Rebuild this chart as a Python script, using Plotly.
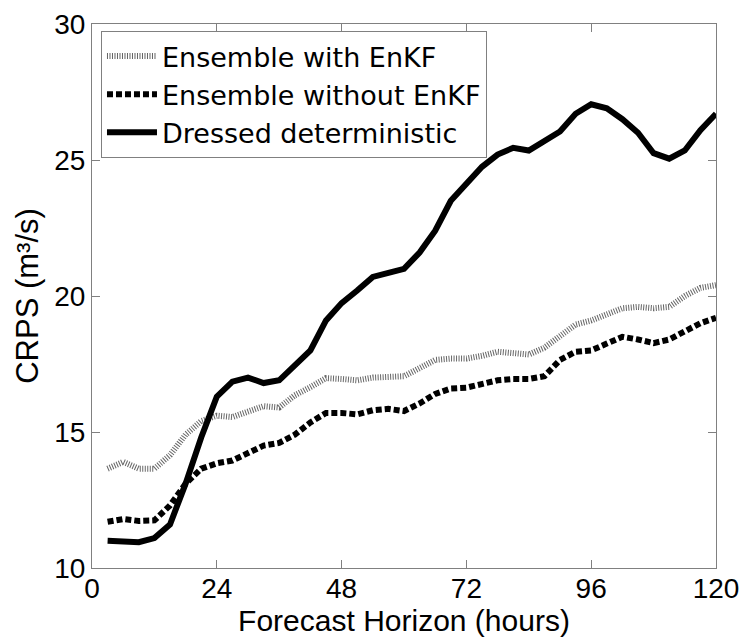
import plotly.graph_objects as go

hours = [3, 6, 9, 12, 15, 18, 21, 24, 27, 30, 33, 36, 39, 42, 45, 48, 51, 54, 57, 60,
         63, 66, 69, 72, 75, 78, 81, 84, 87, 90, 93, 96, 99, 102, 105, 108, 111, 114, 117, 120]

ens_with_enkf = [13.65, 13.9, 13.65, 13.65, 14.15, 14.9, 15.4, 15.6, 15.55, 15.75,
                 15.95, 15.9, 16.35, 16.65, 16.98, 16.95, 16.9, 17.0, 17.05, 17.05,
                 17.35, 17.65, 17.7, 17.7, 17.8, 17.95, 17.9, 17.85, 18.1, 18.55,
                 18.95, 19.1, 19.35, 19.55, 19.6, 19.55, 19.6, 20.0, 20.3, 20.4]

ens_without_enkf = [11.7, 11.8, 11.73, 11.75, 12.3, 13.1, 13.65, 13.85, 13.95, 14.2,
                    14.5, 14.6, 14.9, 15.35, 15.7, 15.7, 15.65, 15.8, 15.85, 15.77,
                    16.05, 16.4, 16.6, 16.63, 16.75, 16.9, 16.95, 16.95, 17.05, 17.65,
                    17.95, 18.0, 18.25, 18.5, 18.4, 18.27, 18.4, 18.7, 19.0, 19.2]

dressed_det = [11.0, 11.0, 10.95, 11.1, 11.6, 13.1, 14.8, 16.3, 16.85, 17.0,
               16.8, 16.9, 17.45, 18.0, 19.1, 19.74, 20.2, 20.7, 20.85, 21.0,
               21.6, 22.4, 23.5, 24.15, 24.75, 25.2, 25.45, 25.35, 25.7, 26.05,
               26.7, 27.05, 26.9, 26.5, 26.0, 25.25, 25.05, 25.35, 26.1, 26.7]

x_ticks = [0, 24, 48, 72, 96, 120]
y_ticks = [10, 15, 20, 25, 30]

names = ["Ensemble with EnKF", "Ensemble without EnKF", "Dressed deterministic"]

fig = go.Figure()
fig.add_trace(go.Scatter(x=hours, y=ens_with_enkf, mode="lines", name=names[0],
                         line=dict(color="#666666", width=6, dash="1px,1.5px")))
fig.add_trace(go.Scatter(x=hours, y=ens_without_enkf, mode="lines", name=names[1],
                         line=dict(color="black", width=6, dash="6px,3px")))
fig.add_trace(go.Scatter(x=hours, y=dressed_det, mode="lines", name=names[2],
                         line=dict(color="black", width=6)))

axis_common = dict(showline=True, linecolor="#808080", linewidth=1, mirror="allticks",
                   ticks="inside", ticklen=8, tickcolor="#808080", tickwidth=1,
                   showgrid=False, zeroline=False, automargin=False,
                   tickfont=dict(family="Liberation Sans, Arial", size=28, color="black"))

fig.update_layout(
    width=745, height=640,
    margin=dict(l=92, r=29, t=24, b=72, autoexpand=False),
    paper_bgcolor="white", plot_bgcolor="white",
    font=dict(family="Liberation Sans, Arial", color="black"),
    xaxis=dict(range=[0, 120], tickvals=x_ticks, ticktext=[str(v) for v in x_ticks],
               ticklabelstandoff=-5,
               title=dict(text="Forecast Horizon (hours)", standoff=4,
                          font=dict(size=30, family="Liberation Sans, Arial")),
               **axis_common),
    yaxis=dict(range=[10, 30], tickvals=y_ticks, ticktext=[str(v) for v in y_ticks],
               title=dict(text="CRPS (m³/s)", standoff=6,
                          font=dict(size=31, family="Liberation Sans, Arial")),
               **axis_common),
    legend=dict(x=0.0144, y=0.987, xanchor="left", yanchor="top",
                bgcolor="white", bordercolor="#808080", borderwidth=1,
                font=dict(family="DejaVu Sans, Open Sans", size=27, color="black"),
                itemwidth=50, tracegroupgap=0),
    showlegend=True,
)

fig.write_html("out.html")
